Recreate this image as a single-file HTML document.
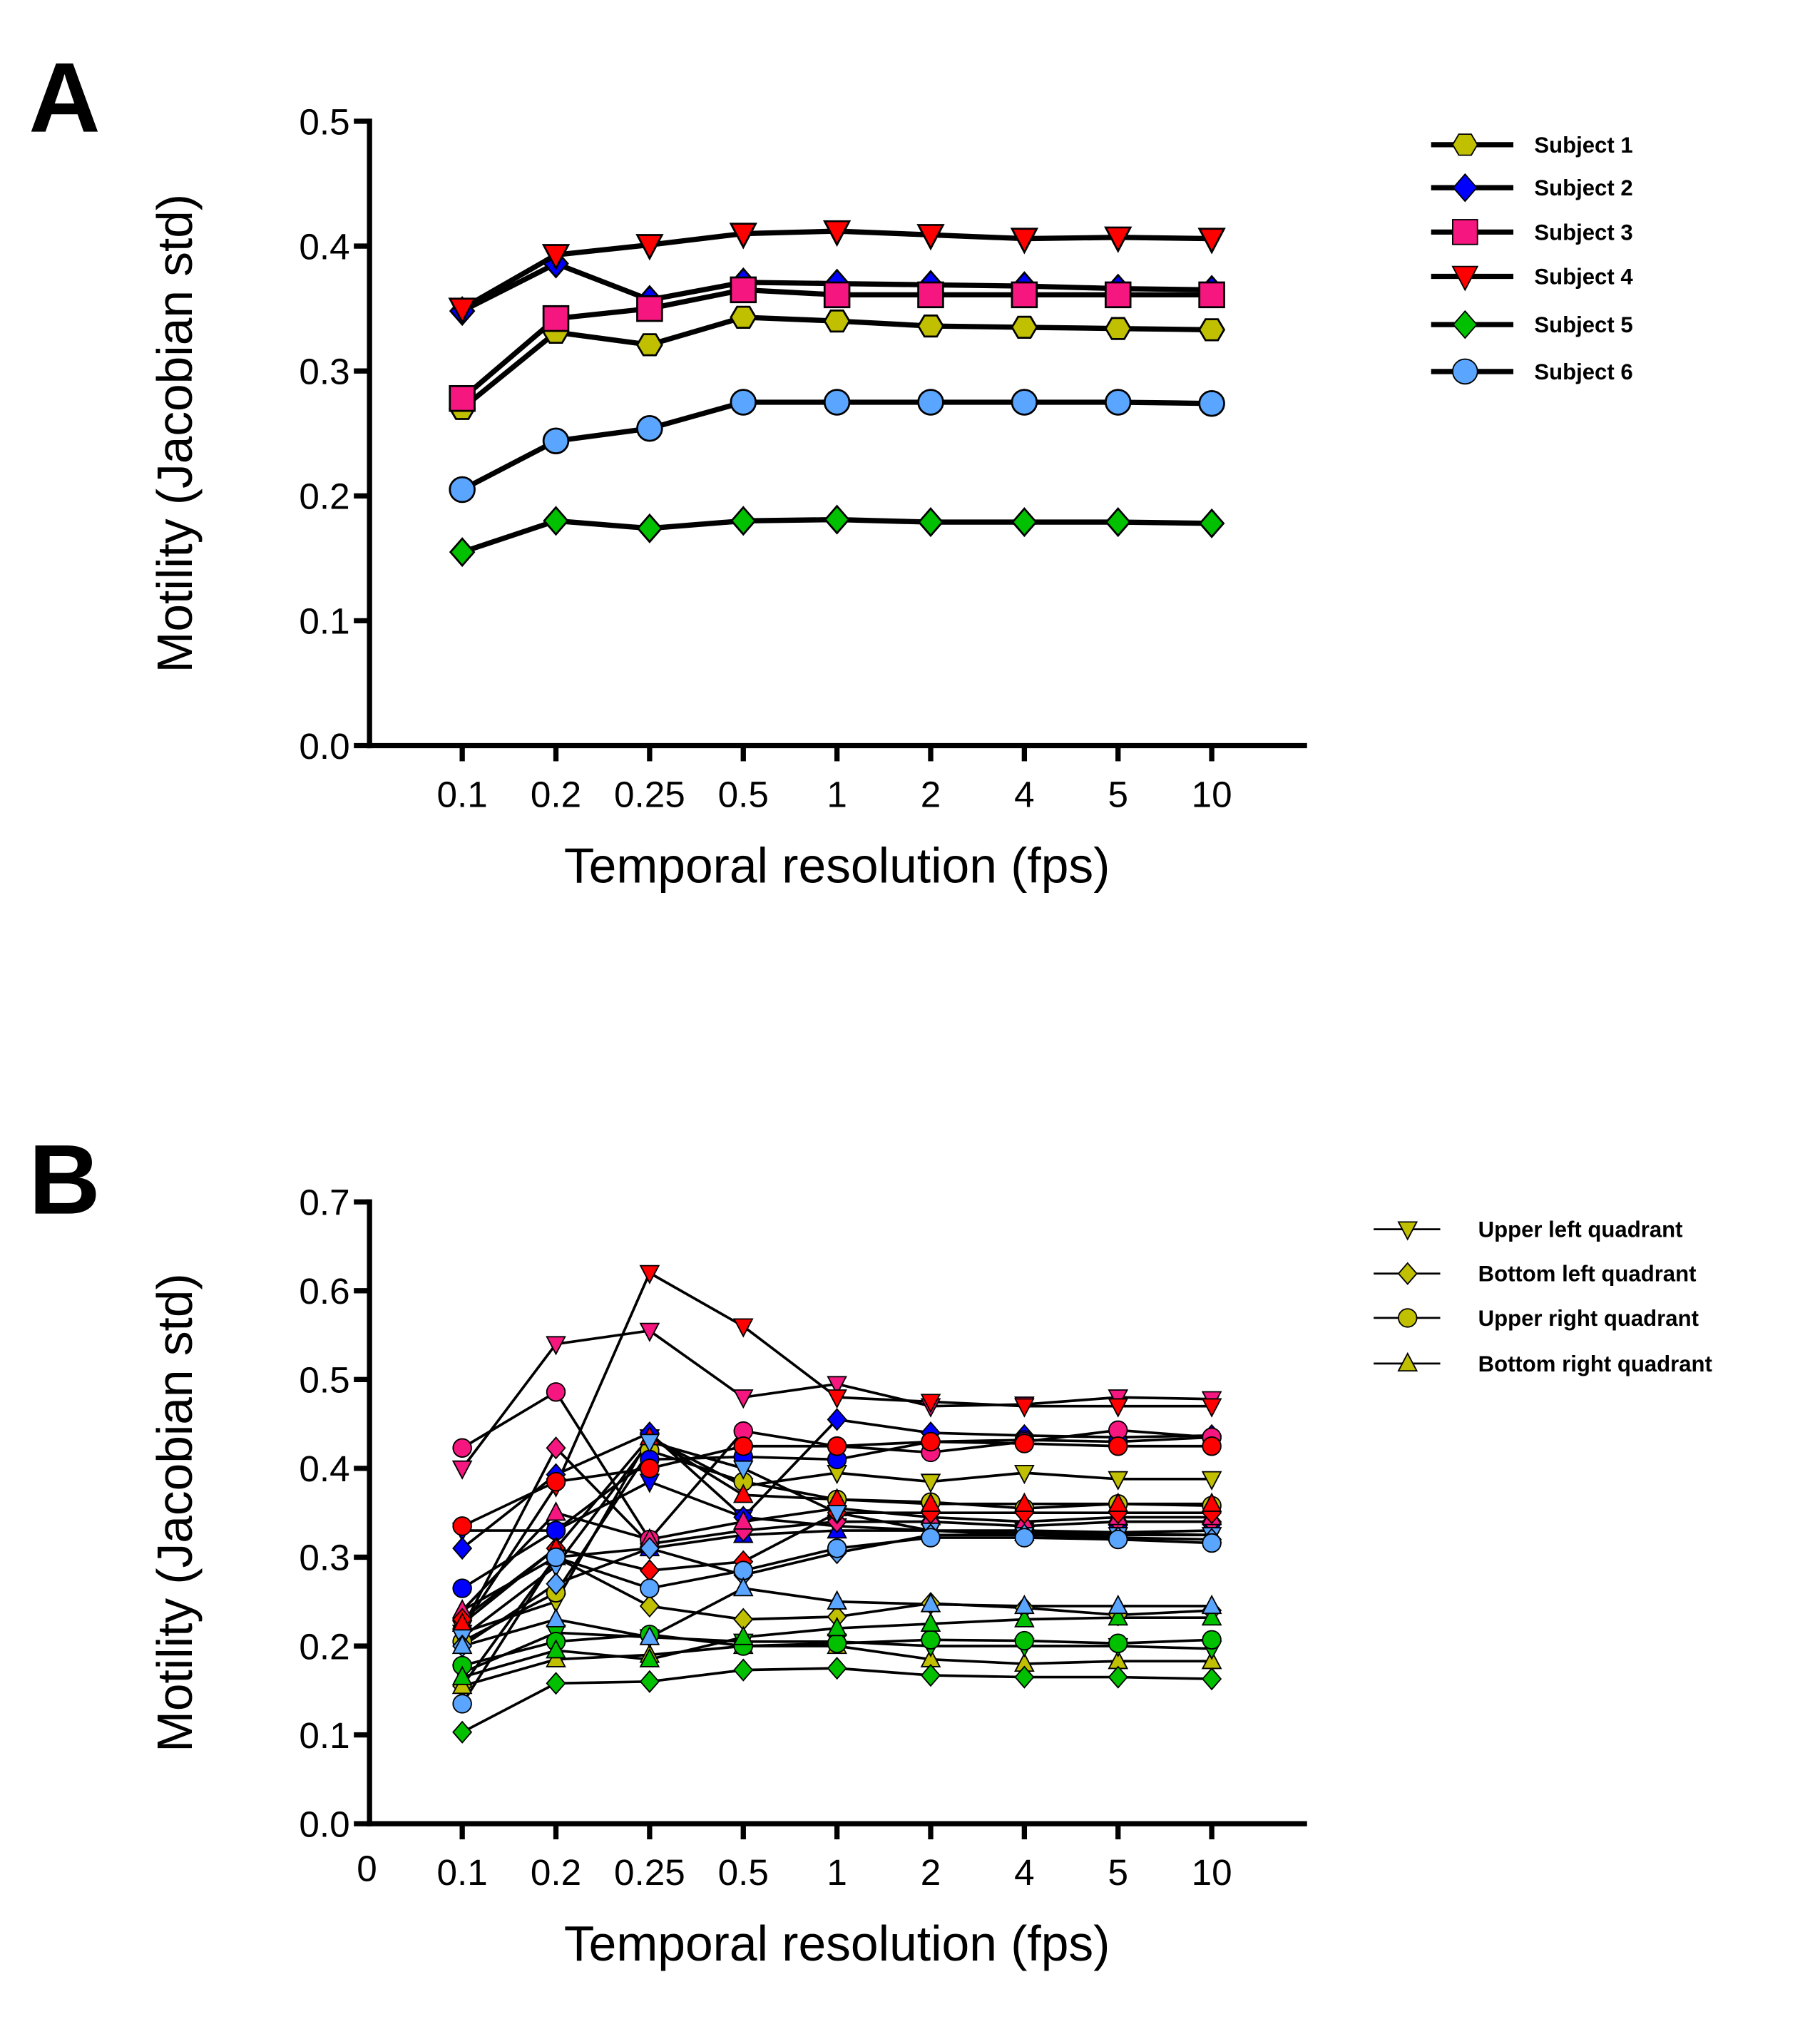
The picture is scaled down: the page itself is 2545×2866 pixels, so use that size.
<!DOCTYPE html>
<html><head><meta charset="utf-8"><style>
html,body{margin:0;padding:0;background:#fff;}
svg{display:block;font-family:"Liberation Sans",Arial,sans-serif;}
</style></head>
<body>
<svg id="fig" xmlns="http://www.w3.org/2000/svg" width="2545" height="2866" viewBox="0 0 1390 1568" preserveAspectRatio="none">
<text x="22" y="101" font-size="76" font-weight="bold">A</text>
<text x="22" y="931" font-size="76" font-weight="bold">B</text>
<g id="pa"></g>
<g id="pb"></g>
</svg>
<script>
const categories = ["0.1","0.2","0.25","0.5","1","2","4","5","10"];
const ticksA = [0,0.1,0.2,0.3,0.4,0.5];
const ticksB = [0,0.1,0.2,0.3,0.4,0.5,0.6,0.7];
const subjectNames = ["Subject 1","Subject 2","Subject 3","Subject 4","Subject 5","Subject 6"];
const s1 = [0.27,0.331,0.321,0.343,0.34,0.336,0.335,0.334,0.333];
const s2 = [0.348,0.386,0.357,0.371,0.37,0.369,0.368,0.366,0.365];
const s3 = [0.278,0.342,0.35,0.365,0.361,0.361,0.361,0.361,0.361];
const s4 = [0.35,0.393,0.401,0.41,0.412,0.409,0.406,0.407,0.406];
const s5 = [0.155,0.18,0.174,0.18,0.181,0.179,0.179,0.179,0.178];
const s6 = [0.205,0.244,0.254,0.275,0.275,0.275,0.275,0.275,0.274];
const quadNames = ["Upper left quadrant","Bottom left quadrant","Upper right quadrant","Bottom right quadrant"];
const b1ul = [0.215,0.25,0.435,0.38,0.395,0.385,0.395,0.388,0.388];
const b1bl = [0.155,0.30,0.245,0.23,0.233,0.248,0.243,0.235,0.24];
const b1ur = [0.205,0.26,0.42,0.385,0.365,0.362,0.355,0.36,0.358];
const b1br = [0.155,0.185,0.19,0.20,0.20,0.185,0.18,0.183,0.183];
const b2ul = [0.33,0.33,0.385,0.345,0.335,0.33,0.33,0.328,0.33];
const b2bl = [0.31,0.393,0.44,0.345,0.455,0.44,0.437,0.435,0.437];
const b2ur = [0.265,0.33,0.41,0.413,0.41,0.43,0.432,0.43,0.435];
const b2br = [0.24,0.30,0.31,0.325,0.33,0.33,0.327,0.327,0.325];
const b3ul = [0.40,0.54,0.555,0.48,0.495,0.47,0.472,0.48,0.478];
const b3bl = [0.22,0.423,0.315,0.33,0.34,0.34,0.335,0.34,0.34];
const b3ur = [0.423,0.486,0.32,0.442,0.425,0.418,0.43,0.443,0.435];
const b3br = [0.24,0.35,0.32,0.34,0.355,0.345,0.34,0.345,0.345];
const b4ul = [0.22,0.38,0.62,0.56,0.48,0.475,0.47,0.47,0.47];
const b4bl = [0.23,0.31,0.285,0.295,0.35,0.35,0.35,0.35,0.35];
const b4ur = [0.335,0.385,0.40,0.425,0.425,0.43,0.428,0.425,0.425];
const b4br = [0.225,0.31,0.435,0.37,0.365,0.36,0.36,0.36,0.36];
const b5ul = [0.17,0.215,0.21,0.205,0.205,0.2,0.2,0.2,0.197];
const b5bl = [0.103,0.158,0.16,0.173,0.175,0.167,0.165,0.165,0.163];
const b5ur = [0.178,0.205,0.213,0.20,0.203,0.207,0.206,0.203,0.207];
const b5br = [0.165,0.195,0.185,0.21,0.22,0.225,0.23,0.232,0.232];
const b6ul = [0.21,0.29,0.43,0.40,0.35,0.33,0.325,0.325,0.325];
const b6bl = [0.20,0.27,0.31,0.28,0.305,0.325,0.325,0.322,0.32];
const b6ur = [0.135,0.30,0.265,0.285,0.31,0.322,0.322,0.32,0.316];
const b6br = [0.20,0.23,0.21,0.265,0.25,0.247,0.245,0.245,0.245];

const colors = ["#c0c000","#0000ff","#f5167f","#ff0000","#00c000","#5aa5ff"];
const NS = "http://www.w3.org/2000/svg";
function mk(parent, tag, attrs){const e=document.createElementNS(NS,tag);for(const k in attrs)e.setAttribute(k,attrs[k]);parent.appendChild(e);return e;}
function xPos(i){return 354 + i*71.75;}
function marker(g, shape, cx, cy, r, fill, sw){
  let e;
  if(shape==="circle") e=mk(g,"circle",{cx:cx,cy:cy,r:r});
  else if(shape==="square") e=mk(g,"rect",{x:cx-r,y:cy-r,width:2*r,height:2*r});
  else {
    let pts;
    if(shape==="diamond") pts=[[0,-r*1.15],[r,0],[0,r*1.15],[-r,0]];
    else if(shape==="down") pts=[[-r,-r*0.8],[r,-r*0.8],[0,r*1.1]];
    else if(shape==="up") pts=[[-r,r*0.8],[r,r*0.8],[0,-r*1.1]];
    else if(shape==="hex") pts=[[-r,0],[-r/2,-r*0.85],[r/2,-r*0.85],[r,0],[r/2,r*0.85],[-r/2,r*0.85]];
    e=mk(g,"polygon",{points:pts.map(p=>(cx+p[0])+","+(cy+p[1])).join(" ")});
  }
  e.setAttribute("fill",fill);e.setAttribute("stroke","#000");e.setAttribute("stroke-width",sw);
  return e;
}
function axes(g, y0, yTop, ticks, vmax, showZero){
  const yS = v => y0 - (v/vmax)*(y0-yTop);
  const ax=mk(g,"g",{});
  
  
  mk(ax,"line",{x1:283,y1:yTop-2,x2:283,y2:y0+2,stroke:"#000","stroke-width":4});
  ticks.forEach(t=>{
    const y=yS(t);
    mk(ax,"line",{x1:271,y1:y,x2:283,y2:y,stroke:"#000","stroke-width":4});
    const tx=mk(ax,"text",{x:268,y:y+10,"font-size":28,"text-anchor":"end"});
    tx.textContent=t.toFixed(1);
    
    
  });
  const xa=mk(g,"g",{});
  
  
  mk(xa,"line",{x1:281,y1:y0,x2:1001,y2:y0,stroke:"#000","stroke-width":4});
  categories.forEach((c,i)=>{
    mk(xa,"line",{x1:xPos(i),y1:y0,x2:xPos(i),y2:y0+12,stroke:"#000","stroke-width":4});
    const tx=mk(xa,"text",{x:xPos(i),y:y0+47,"font-size":28,"text-anchor":"middle"});
    tx.textContent=c;
    
    
  });
  if(showZero){const tz=mk(xa,"text",{x:281,y:y0+44,"font-size":28,"text-anchor":"middle"});tz.textContent="0";
    
    }
  const yt=mk(g,"text",{x:0,y:0,"font-size":38,"text-anchor":"middle",transform:"translate(147,"+((y0+yTop)/2)+") rotate(-90)"});
  yt.textContent="Motility (Jacobian std)";
  
  
  const xt=mk(g,"text",{x:641,y:y0+105,"font-size":38,"text-anchor":"middle"});
  xt.textContent="Temporal resolution (fps)";
  
  
  return yS;
}
const pa=document.getElementById("pa");
const yA=axes(pa,572,93,ticksA,0.5,false);
const seriesA=[s1,s2,s3,s4,s5,s6];
const shapesA=["hex","diamond","square","down","diamond","circle"];
seriesA.forEach((s,k)=>{
  const g=mk(pa,"g",{});
  
  
  mk(g,"polyline",{points:s.map((v,i)=>xPos(i)+","+yA(v)).join(" "),fill:"none",stroke:"#000","stroke-width":4,"stroke-linejoin":"round"});
  s.forEach((v,i)=>{const m=marker(g,shapesA[k],xPos(i),yA(v),shapesA[k]==="diamond"?9:9.5,colors[k],1.5);
    
    });
});
const legA=mk(pa,"g",{});


[111,144,178,212,249,285].forEach((y,k)=>{
  const e=mk(legA,"g",{});
  
  
  mk(e,"line",{x1:1096,y1:y,x2:1159,y2:y,stroke:"#000","stroke-width":4});
  marker(e,shapesA[k],1122,y,shapesA[k]==="diamond"?9:9.5,colors[k],1);
  const t=mk(e,"text",{x:1175,y:y+6,"font-size":17,"font-weight":"bold"});t.textContent=subjectNames[k];
});
const pb=document.getElementById("pb");
const yB=axes(pb,1399,922,ticksB,0.7,true);
const seriesB=[[b1ul,b1bl,b1ur,b1br],[b2ul,b2bl,b2ur,b2br],[b3ul,b3bl,b3ur,b3br],[b4ul,b4bl,b4ur,b4br],[b5ul,b5bl,b5ur,b5br],[b6ul,b6bl,b6ur,b6br]];
const shapesB=["down","diamond","circle","up"];
const lineG=mk(pb,"g",{});
const markG=mk(pb,"g",{});
seriesB.forEach((qs,k)=>{qs.forEach((s,q)=>{
  const l=mk(lineG,"polyline",{points:s.map((v,i)=>xPos(i)+","+yB(v)).join(" "),fill:"none",stroke:"#000","stroke-width":2});
  
  
});});
seriesB.forEach((qs,k)=>{qs.forEach((s,q)=>{
  s.forEach((v,i)=>{const m=marker(markG,shapesB[q],xPos(i),yB(v),7,colors[k],1);
    
    });
});});
const legB=mk(pb,"g",{});


[943,977,1011,1046].forEach((y,q)=>{
  const e=mk(legB,"g",{});
  
  
  mk(e,"line",{x1:1052,y1:y,x2:1103,y2:y,stroke:"#000","stroke-width":1.5});
  marker(e,shapesB[q],1078,y,7,"#c0c000",1);
  const t=mk(e,"text",{x:1132,y:y+6,"font-size":17,"font-weight":"bold"});t.textContent=quadNames[q];
});
</script>
</body></html>
